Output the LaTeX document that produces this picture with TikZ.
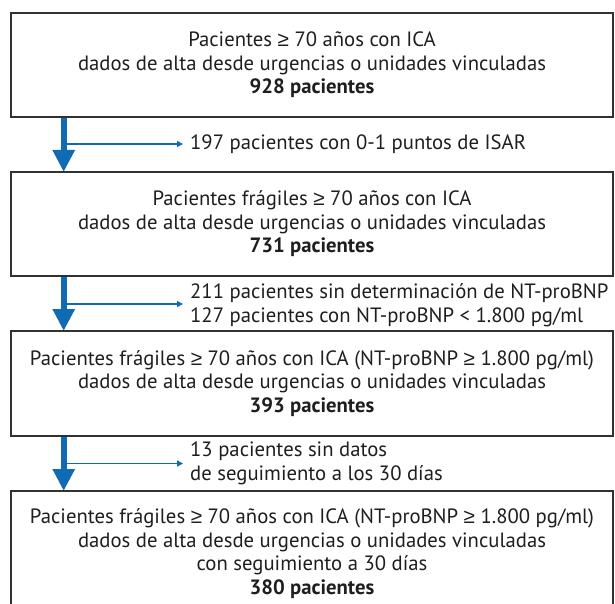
\documentclass[tikz,border=0pt]{standalone}
\usepackage{fontspec}
\setmainfont{PT Sans}
\newfontfamily\symfnt{Liberation Sans}
\newcommand\mygeq{{\symfnt ≥}}
\usetikzlibrary{arrows.meta}
\definecolor{flowblue}{RGB}{16,106,180}
\definecolor{boxgray}{RGB}{50,50,50}
\definecolor{txt}{RGB}{30,30,30}
\begin{document}
\begin{tikzpicture}[x=1pt,y=-1pt,
  font=\fontsize{20.7}{23.5}\selectfont,
  box/.style={draw=boxgray, line width=2pt, minimum width=602pt, inner sep=0pt, align=center, text=txt},
  side/.style={anchor=west, inner xsep=7pt, inner ysep=0pt, align=left, text=txt},
  bigarrow/.style={draw=flowblue, line width=6pt, -{Triangle[width=21pt,length=22pt]}, shorten >=-1pt},
  thinarrow/.style={draw=flowblue, line width=1.5pt, -{Triangle[width=6pt,length=6pt]}}
]
\useasboundingbox (0,0) rectangle (615,604);

\node[box, minimum height=104pt] (b1) at (312,64.7)
  {Pacientes \mygeq{} 70 años con ICA\\dados de alta desde urgencias o unidades vinculadas\\\textbf{928 pacientes}};
\node[box, minimum height=104pt] (b2) at (312,224)
  {Pacientes frágiles \mygeq{} 70 años con ICA\\dados de alta desde urgencias o unidades vinculadas\\\textbf{731 pacientes}};
\node[box, minimum height=105pt] (b3) at (312,383.5)
  {Pacientes frágiles \mygeq{} 70 años con ICA (NT-proBNP \mygeq{} 1.800 pg/ml)\\dados de alta desde urgencias o unidades vinculadas\\\textbf{393 pacientes}};
\node[box, minimum height=121pt, text depth=0pt] (b4) at (312,551.5)
  {Pacientes frágiles \mygeq{} 70 años con ICA (NT-proBNP \mygeq{} 1.800 pg/ml)\\dados de alta desde urgencias o unidades vinculadas\\con seguimiento a 30 días\\\textbf{380 pacientes}};

\coordinate (ax) at (63.7,0);
\coordinate (j1) at (63.7,144);
\coordinate (j2) at (63.7,304);
\coordinate (j3) at (63.7,463.5);

\node[side] (l1) at (183,144) {197 pacientes con 0-1 puntos de ISAR};
\node[side] (l2) at (183,305) {211 pacientes sin determinación de NT-proBNP\\127 pacientes con NT-proBNP < 1.800 pg/ml};
\node[side] (l3) at (183,463.5) {13 pacientes sin datos\\de seguimiento a los 30 días};

\draw[bigarrow] (b1.south -| ax) -- (b2.north -| ax);
\draw[bigarrow] (b2.south -| ax) -- (b3.north -| ax);
\draw[bigarrow] (b3.south -| ax) -- (b4.north -| ax);

\draw[thinarrow] (j1) -- (l1.west);
\draw[thinarrow] (j2) -- (j2 -| l2.west);
\draw[thinarrow] (j3) -- (j3 -| l3.west);
\end{tikzpicture}
\end{document}
